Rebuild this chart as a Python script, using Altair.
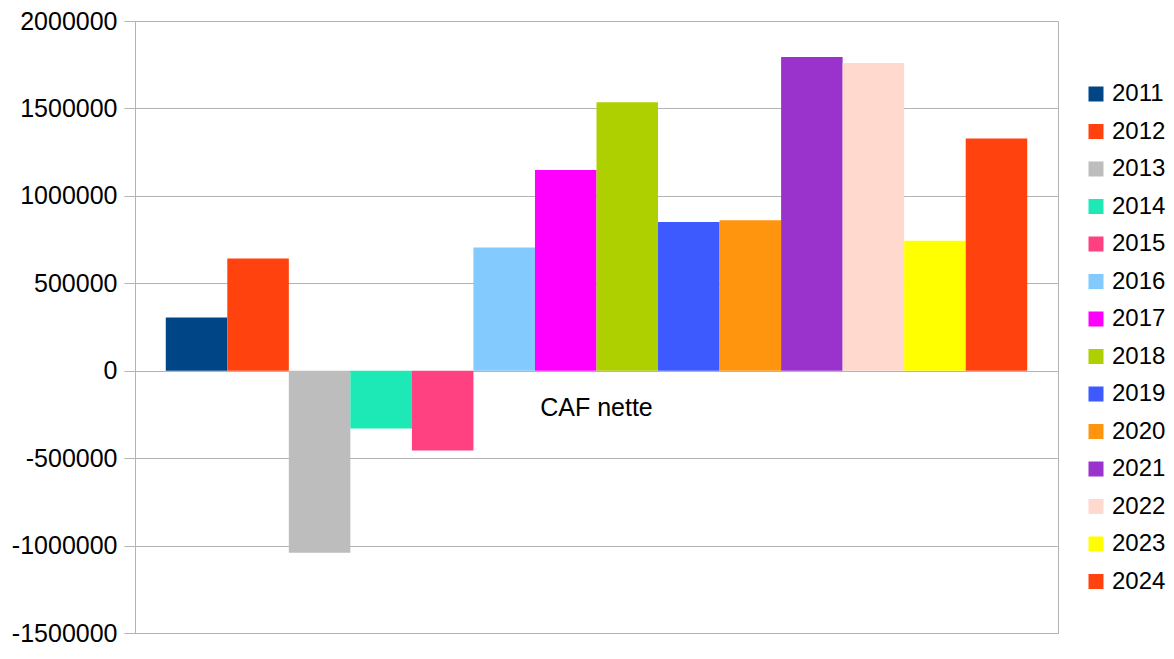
import altair as alt
import pandas as pd

categories = ["CAF nette"]
years = ["2011", "2012", "2013", "2014", "2015", "2016", "2017",
         "2018", "2019", "2020", "2021", "2022", "2023", "2024"]
values = [305000, 642000, -1041000, -330000, -457000, 704000, 1148000,
          1535000, 850000, 861000, 1794000, 1760000, 743000, 1328000]
colors = ["#004586", "#ff420e", "#bdbdbd", "#1de9b6", "#ff4081", "#83caff",
          "#ff00ff", "#aecf00", "#3d5afe", "#ff950e", "#9933cc", "#ffd8ce",
          "#ffff00", "#ff420e"]
tick_values = [-1500000, -1000000, -500000, 0, 500000, 1000000, 1500000, 2000000]

df = pd.DataFrame({
    "categorie": [categories[0]] * len(years),
    "annee": years,
    "valeur": values,
})

FONT = "Liberation Sans"
GRID = "#b3b3b3"
PLOT_H = 612

chart = alt.Chart(df).mark_bar(strokeWidth=0).encode(
    x=alt.X(
        "categorie:N",
        title=None,
        scale=alt.Scale(paddingInner=0, paddingOuter=0),
        axis=alt.Axis(labelAngle=0, labelFontSize=25, labelFont=FONT,
                      labelColor="black", domain=False, ticks=False,
                      offset=-round(PLOT_H * 3 / 7), labelPadding=24),
    ),
    xOffset=alt.XOffset("annee:N", sort=years,
                        scale=alt.Scale(paddingInner=0, paddingOuter=0.5)),
    y=alt.Y(
        "valeur:Q",
        title=None,
        scale=alt.Scale(domain=[-1500000, 2000000], nice=False),
        axis=alt.Axis(values=tick_values, labelExpr="datum.value + ''",
                      labelFontSize=25, labelFont=FONT, labelColor="black",
                      labelPadding=7, tickSize=11, tickColor=GRID,
                      domainColor=GRID, gridColor=GRID, gridWidth=1),
    ),
    color=alt.Color(
        "annee:N",
        scale=alt.Scale(domain=years, range=colors),
        legend=alt.Legend(title=None, orient="none", legendX=949, legendY=61,
                          symbolType="square", symbolSize=225,
                          symbolStrokeWidth=0, labelFontSize=24,
                          labelFont=FONT, labelColor="black",
                          rowPadding=13.5, labelOffset=4, padding=0),
    ),
).properties(
    width=923,
    height=PLOT_H,
    padding={"left": 127, "top": 13, "right": 108, "bottom": 13},
    autosize=alt.AutoSizeParams(type="none"),
).configure_view(stroke=GRID, strokeWidth=1)

chart.save("out.html", embed_options={"renderer": "svg", "actions": False})
